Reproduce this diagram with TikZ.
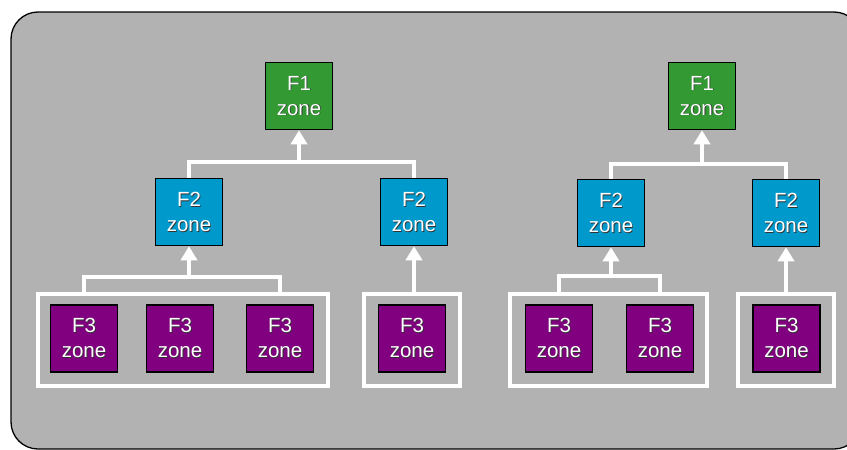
\documentclass[tikz,border=0pt]{standalone}
\usepackage{fontspec}
\setmainfont{Liberation Sans}
\usetikzlibrary{arrows.meta}

\definecolor{panel}{HTML}{B2B2B2}
\definecolor{fgreen}{HTML}{339933}
\definecolor{fblue}{HTML}{0099CC}
\definecolor{fpurple}{HTML}{800080}

% white label text with a small dark drop shadow
\newcommand\zonetext[1]{\makebox[0pt][l]{\raisebox{-0.9pt}{\hspace{0.9pt}\textcolor{black!80}{#1}}}\textcolor{white}{#1}}

\tikzset{
  zonebox/.style={draw=black, line width=1.5pt, minimum width=67pt, minimum height=67pt,
    inner sep=0pt, align=center, font=\fontsize{20.5}{25}\selectfont},
  f1box/.style={zonebox, fill=fgreen},
  f2box/.style={zonebox, fill=fblue},
  f3box/.style={zonebox, fill=fpurple},
  groupbox/.style={draw=white, line width=4pt, minimum height=92pt, inner sep=0pt},
  link/.style={draw=white, line width=4pt},
  uparrow/.style={link, -{Triangle[width=16pt,length=14pt]}},
}

\begin{document}
\begin{tikzpicture}[x=1pt, y=-1pt]
  \clip (0,0) rectangle (847,450);

  % panel
  \draw[black, line width=1.3pt, fill=panel, rounded corners=27pt] (11,12) rectangle (861,449);

  % level 1
  \node[f1box] (f1a) at (299,96) {\zonetext{F1}\\\zonetext{zone}};
  \node[f1box] (f1b) at (702,96) {\zonetext{F1}\\\zonetext{zone}};

  % level 2
  \node[f2box] (f2a) at (189,212) {\zonetext{F2}\\\zonetext{zone}};
  \node[f2box] (f2b) at (414,212) {\zonetext{F2}\\\zonetext{zone}};
  \node[f2box] (f2c) at (611,213) {\zonetext{F2}\\\zonetext{zone}};
  \node[f2box] (f2d) at (786,213) {\zonetext{F2}\\\zonetext{zone}};

  % level 3 groups
  \node[groupbox, minimum width=290pt] (g1) at (183,340) {};
  \node[groupbox, minimum width=96pt]  (g2) at (412,340) {};
  \node[groupbox, minimum width=197pt] (g3) at (608.5,340) {};
  \node[groupbox, minimum width=96pt]  (g4) at (786,340) {};

  % level 3
  \node[f3box] (f3a) at (84,338.5)  {\zonetext{F3}\\\zonetext{zone}};
  \node[f3box] (f3b) at (180,338.5) {\zonetext{F3}\\\zonetext{zone}};
  \node[f3box] (f3c) at (280,338.5) {\zonetext{F3}\\\zonetext{zone}};
  \node[f3box] (f3d) at (412,338.5) {\zonetext{F3}\\\zonetext{zone}};
  \node[f3box] (f3e) at (559,338.5) {\zonetext{F3}\\\zonetext{zone}};
  \node[f3box] (f3f) at (660,338.5) {\zonetext{F3}\\\zonetext{zone}};
  \node[f3box] (f3g) at (786.5,338.5) {\zonetext{F3}\\\zonetext{zone}};

  % junctions
  \coordinate (ta) at (299,162);
  \coordinate (tb) at (702,164);
  \coordinate (ba) at (189,277);
  \coordinate (bb) at (611,276);

  % level 2 -> level 1
  \draw[link] (f2a.north) |- (ta) -| (f2b.north);
  \draw[uparrow] (ta) -- (f1a.south);
  \draw[link] (f2c.north) |- (tb) -| (f2d.north);
  \draw[uparrow] (tb) -- (f1b.south);

  % level 3 -> level 2
  \draw[link] (g1.north -| f3a) |- (ba) -| (g1.north -| f3c);
  \draw[uparrow] (ba) -- (f2a.south);
  \draw[uparrow] (g2.north -| f2b) -- (f2b.south);
  \draw[link] (g3.north -| f3e) |- (bb) -| (g3.north -| f3f);
  \draw[uparrow] (bb) -- (f2c.south);
  \draw[uparrow] (g4.north -| f2d) -- (f2d.south);
\end{tikzpicture}
\end{document}
